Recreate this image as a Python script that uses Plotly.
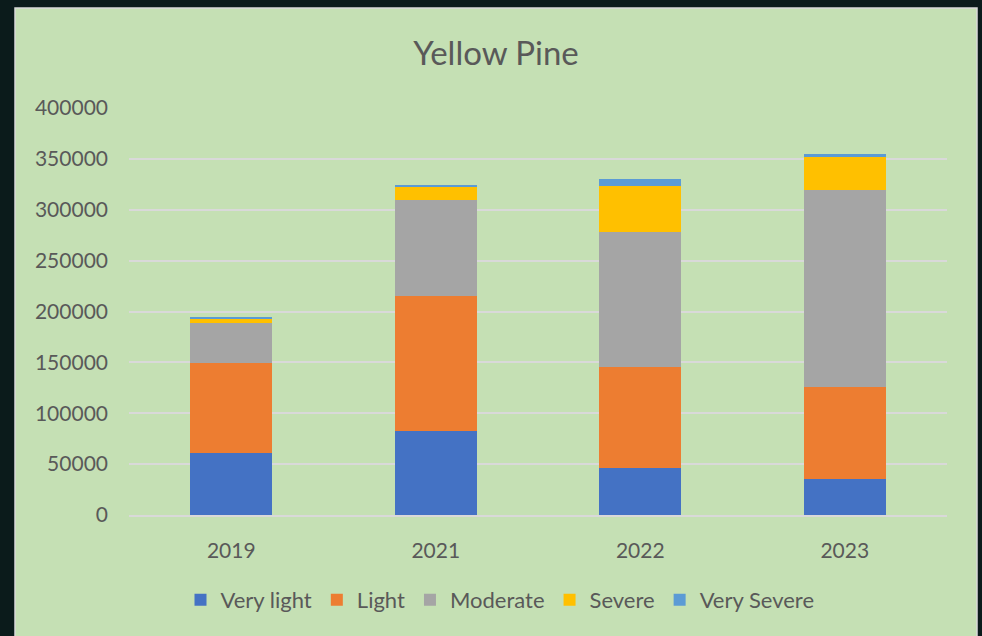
import plotly.graph_objects as go

years = ["2019", "2021", "2022", "2023"]
very_light = [61000, 83000, 46000, 35500]
light = [88000, 132000, 99500, 90000]
moderate = [40000, 95000, 133000, 194000]
severe = [4000, 12000, 45000, 32000]
very_severe = [1000, 2000, 6500, 3000]

series = [
    ("Very light", very_light, "#4472c4"),
    ("Light", light, "#ed7d31"),
    ("Moderate", moderate, "#a5a5a5"),
    ("Severe", severe, "#ffc000"),
    ("Very Severe", very_severe, "#5b9bd5"),
]

W, H = 982, 636
L, R, T, B = 129, 947, 108, 515

fig = go.Figure()
for name, vals, col in series:
    fig.add_trace(go.Bar(x=years, y=vals, name=name, marker_color=col,
                         marker_line_width=0))

pw, ph = R - L, B - T
fig.add_shape(type="rect", xref="paper", yref="paper", layer="below",
              x0=(15 - L) / pw, x1=(977 - L) / pw,
              y0=(B - 640) / ph, y1=(B - 8) / ph,
              fillcolor="#c5e0b4", line=dict(color="#d9d9d9", width=1.5))

fig.update_layout(
    width=W, height=H,
    margin=dict(l=L, r=W - R, t=T, b=H - B, pad=0),
    barmode="stack", bargap=0.6,
    paper_bgcolor="#0b1b1b", plot_bgcolor="rgba(0,0,0,0)",
    font=dict(family="Lato", color="#595959", size=21),
    title=dict(text="Yellow Pine", x=496 / W, xanchor="center",
               y=1 - 53 / H, yanchor="middle", yref="container",
               font=dict(size=33, color="#595959", family="Lato")),
    legend=dict(orientation="h", xref="container", yref="container",
                x=500 / W, xanchor="center", y=1 - 600 / H, yanchor="middle",
                font=dict(size=22, color="#595959"), traceorder="normal",
                bgcolor="rgba(0,0,0,0)", itemwidth=30),
    showlegend=True,
)
fig.update_yaxes(range=[0, 400000], dtick=50000, gridcolor="#d9d9d9",
                 gridwidth=1.5, zeroline=False, showline=False, ticks="",
                 tickformat="d", ticklabelstandoff=20,
                 tickfont=dict(size=21, color="#595959"))
fig.update_xaxes(showline=True, linecolor="#d9d9d9", linewidth=1.5, ticks="",
                 ticklabelstandoff=16, tickfont=dict(size=21, color="#595959"))

fig.write_html("out.html")
